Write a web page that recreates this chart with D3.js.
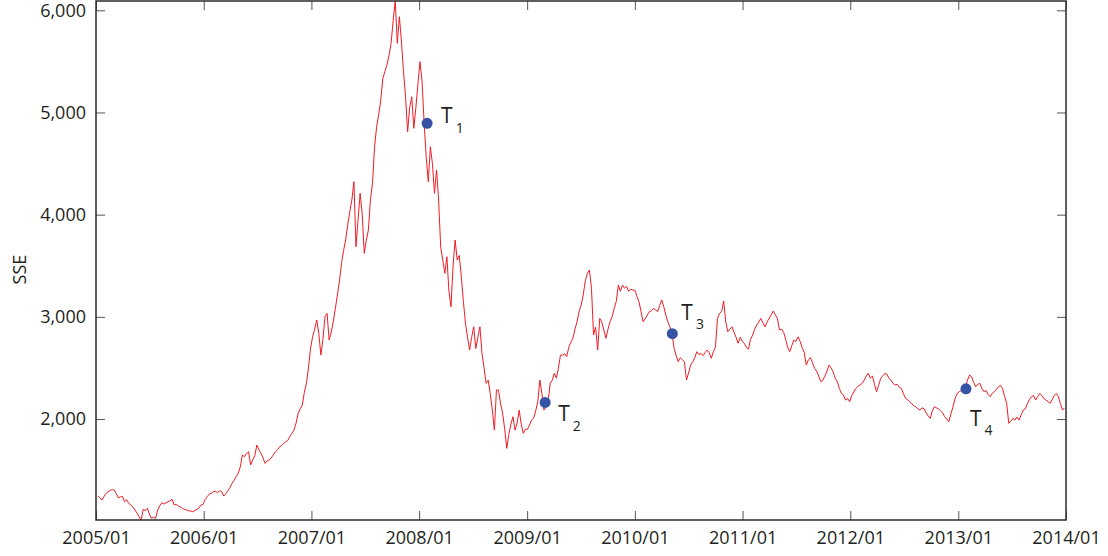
<!DOCTYPE html>
<html>
<head>
<meta charset="utf-8">
<script src="https://cdn.jsdelivr.net/npm/d3@7"></script>
<style>
  html, body { margin: 0; padding: 0; background: #ffffff; }
  svg { display: block; }
  text { font-family: "Open Sans", "Noto Sans", sans-serif; fill: #231f20; }
</style>
</head>
<body>
<svg id="chart" width="1108" height="556"></svg>
<script>
// Shanghai Composite (SSE) weekly closes, first week ending 2005-01-07
const firstWeek = "2005-01-07";
const sseWeekly = [
  // 2005
  1246,1230,1207,1240,1273,1290,1300,1310,1305,1270,1227,1240,1240,1191,1210,1175,1158,1140,1109,1080,
  1044,1010,1116,1103,1126,1070,1028,1040,1028,1109,1150,1181,1168,1180,1191,1200,1214,1158,1165,1149,
  1140,1125,1116,1110,1103,1100,1093,1105,1116,1130,1158,1165,
  // 2006
  1214,1240,1266,1275,1289,1292,1280,1299,1290,1246,1270,1299,1330,1371,1400,1436,1470,1533,1648,1631,
  1660,1680,1550,1600,1640,1745,1700,1664,1620,1566,1590,1600,1620,1650,1680,1700,1729,1740,1760,1778,
  1790,1830,1860,1892,1960,2056,2100,2137,2260,2349,2500,2692,
  // 2007
  2805,2880,2969,2839,2626,2780,3001,3034,2773,2850,2952,3080,3213,3350,3524,3650,3752,3900,4029,4143,
  4323,3686,3950,4209,4013,3622,3750,3850,4150,4307,4665,4861,4980,5122,5334,5400,5465,5560,5677,5900,
  6092,5677,5937,5700,5399,5154,4812,5050,5154,4845,5050,5285,
  // 2008
  5497,5300,4894,4560,4323,4665,4500,4209,4437,4143,3686,3560,3426,3588,3250,3099,3500,3752,3556,3600,
  3393,3150,2937,2800,2675,2800,2903,2690,2800,2903,2643,2500,2349,2380,2250,2088,1892,2284,2284,2150,
  2056,1900,1713,1850,1950,2023,1892,1960,2088,1950,1860,1900,
  // 2009
  1900,1941,1990,2007,2080,2169,2382,2250,2088,2120,2169,2349,2380,2447,2400,2500,2626,2626,2640,2610,
  2700,2750,2790,2880,2952,3050,3116,3214,3350,3426,3458,3280,2822,2900,2675,2985,2950,2870,2790,2880,
  2952,3000,3083,3150,3311,3250,3311,3280,3300,3250,3270,3262,
  // 2010
  3262,3200,3148,3050,2952,2980,3018,3050,3060,3083,3070,3050,3110,3165,3100,3018,2950,2900,2839,2692,
  2620,2561,2600,2580,2560,2382,2450,2528,2560,2600,2659,2630,2643,2620,2650,2675,2650,2594,2659,2700,
  2985,3034,3050,3155,2950,2854,2880,2903,2850,2800,2741,2800,
  // 2011
  2760,2741,2700,2685,2780,2822,2880,2920,2950,2985,2940,2903,2950,2985,3020,3057,3020,2985,2871,2880,
  2850,2780,2700,2659,2720,2773,2760,2805,2760,2700,2650,2528,2580,2600,2550,2496,2470,2420,2365,2380,
  2420,2470,2528,2500,2460,2400,2365,2300,2250,2235,2186,2200,
  // 2012
  2169,2230,2267,2300,2320,2333,2349,2382,2420,2447,2400,2420,2340,2267,2330,2398,2420,2447,2440,2400,
  2380,2350,2333,2340,2310,2300,2250,2203,2190,2169,2150,2130,2120,2100,2088,2110,2100,2060,2030,2007,
  2080,2120,2110,2100,2080,2060,2023,2000,1974,2050,2120,2200,
  // 2013
  2250,2267,2280,2290,2300,2380,2431,2414,2360,2316,2340,2349,2300,2267,2280,2240,2218,2250,2267,2290,
  2316,2330,2300,2220,2154,1958,1980,2007,1990,2020,1990,2040,2088,2100,2150,2190,2218,2230,2186,2220,
  2251,2230,2200,2186,2170,2154,2190,2230,2251,2220,2150,2088,2110
];

// Turning points marked on the series
const pointLabels = ["1", "2", "3", "4"];
const pointDates  = ["2008-01-28", "2009-03-03", "2010-05-08", "2013-01-27"];
const pointValues = [4894, 2163, 2835, 2296];

// Axis ticks
const yTickValues = [2000, 3000, 4000, 5000, 6000];
const xTickYears  = [2005, 2006, 2007, 2008, 2009, 2010, 2011, 2012, 2013, 2014];
const yLabel = "SSE";

// Layout
const plot = { left: 96, right: 1066, top: 1, bottom: 520 };
const labelOffsets = [[14, 0], [13, 19], [9, -14], [4, 37]];

const parse = d3.timeParse("%Y-%m-%d");
const start = parse(firstWeek);
const series = sseWeekly.map((v, i) => ({ date: d3.timeDay.offset(start, 7 * i), value: v }));
const points = pointValues.map((v, i) => ({ date: parse(pointDates[i]), value: v, label: pointLabels[i] }));

const x = d3.scaleTime()
  .domain([new Date(2005, 0, 1), new Date(2014, 0, 1)])
  .range([plot.left, plot.right]);
const y = d3.scaleLinear()
  .domain([1012, 6091])
  .range([plot.bottom, plot.top]);

const svg = d3.select("#chart");

svg.append("defs").append("clipPath").attr("id", "plot-clip")
  .append("rect")
  .attr("x", plot.left).attr("y", plot.top)
  .attr("width", plot.right - plot.left).attr("height", plot.bottom - plot.top);

const xTicks = xTickYears.map(yr => new Date(yr, 0, 1));
const tickLen = 9;

function styleAxis(g, keepText) {
  g.select(".domain").remove();
  g.selectAll(".tick line").attr("stroke", "#555").attr("stroke-width", 1);
  if (!keepText) g.selectAll(".tick text").remove();
  g.selectAll(".tick text")
    .attr("font-family", "'Open Sans', 'Noto Sans', sans-serif")
    .attr("font-size", 18)
    .attr("fill", "#231f20");
}

svg.append("g")
  .attr("transform", `translate(0,${plot.bottom})`)
  .call(d3.axisBottom(x).tickValues(xTicks).tickFormat(d3.timeFormat("%Y/%m"))
    .tickSize(-tickLen).tickPadding(11))
  .call(g => styleAxis(g, true));

svg.append("g")
  .attr("transform", `translate(0,${plot.top})`)
  .call(d3.axisTop(x).tickValues(xTicks).tickSize(-tickLen))
  .call(g => styleAxis(g, false));

svg.append("g")
  .attr("transform", `translate(${plot.left},0)`)
  .call(d3.axisLeft(y).tickValues(yTickValues).tickFormat(d3.format(","))
    .tickSize(-tickLen).tickPadding(10))
  .call(g => styleAxis(g, true));

svg.append("g")
  .attr("transform", `translate(${plot.right},0)`)
  .call(d3.axisRight(y).tickValues(yTickValues).tickSize(-tickLen))
  .call(g => styleAxis(g, false));

// Index line
const line = d3.line()
  .x(d => x(d.date))
  .y(d => y(d.value));

svg.append("path")
  .datum(series)
  .attr("clip-path", "url(#plot-clip)")
  .attr("fill", "none")
  .attr("stroke", "#ee1c25")
  .attr("stroke-width", 1)
  .attr("stroke-linejoin", "round")
  .attr("d", line);

// Frame
svg.append("rect")
  .attr("x", plot.left).attr("y", plot.top)
  .attr("width", plot.right - plot.left).attr("height", plot.bottom - plot.top)
  .attr("fill", "none")
  .attr("stroke", "#2b2b2b")
  .attr("stroke-width", 1.5);

// Marked points
svg.append("g").selectAll("circle")
  .data(points)
  .join("circle")
  .attr("cx", d => x(d.date))
  .attr("cy", d => y(d.value))
  .attr("r", 5.5)
  .attr("fill", "#3552a5");

const lbl = svg.append("g").selectAll("text")
  .data(points)
  .join("text")
  .attr("x", (d, i) => x(d.date) + labelOffsets[i][0])
  .attr("y", (d, i) => y(d.value) + labelOffsets[i][1])
  .attr("font-size", 21);
lbl.append("tspan").text("T");
lbl.append("tspan")
  .attr("dx", 3).attr("dy", 9.5)
  .attr("font-size", 14)
  .text(d => d.label);

// Y axis title
svg.append("text")
  .attr("transform", `translate(26,${(plot.top + plot.bottom) / 2 + 9}) rotate(-90)`)
  .attr("text-anchor", "middle")
  .attr("font-size", 18)
  .text(yLabel);
</script>
</body>
</html>
